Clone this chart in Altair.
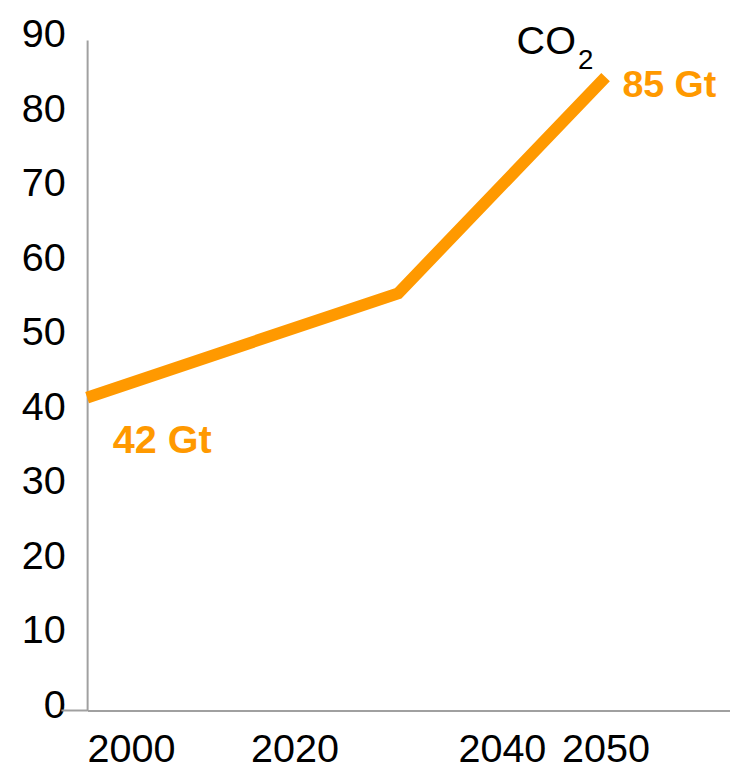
import altair as alt
import pandas as pd

years = [2000, 2030, 2050]
co2 = [42, 56, 85]
x_ticks = [2000, 2020, 2040, 2050]
y_ticks = [0, 10, 20, 30, 40, 50, 60, 70, 80, 90]
start_label = "42 Gt"
end_label = "85 Gt"

ORANGE = "#FF9900"
FONT = "Liberation Sans, Arial, sans-serif"

df = pd.DataFrame({"year": years, "co2": co2})
start_df = pd.DataFrame({"year": [years[0]], "co2": [co2[0]], "t": [start_label]})
end_df = pd.DataFrame({"year": [years[-1]], "co2": [co2[-1]], "t": [end_label]})

xs = alt.Scale(domain=[2000, 2062], nice=False, zero=False)
ys = alt.Scale(domain=[0, 90], nice=False)

line = alt.Chart(df).mark_line(color=ORANGE, strokeWidth=12, strokeCap="butt", strokeJoin="miter").encode(
    x=alt.X("year:Q", scale=xs, axis=alt.Axis(
        values=x_ticks, format="d", title=None, grid=False, ticks=False,
        domainColor="#a0a0a0", domainWidth=2, labelFont=FONT, labelFontSize=40,
        labelColor="#000000", labelPadding=20, labelFlush=True, labelOverlap=False)),
    y=alt.Y("co2:Q", scale=ys, axis=alt.Axis(
        values=y_ticks, title=None, grid=False, ticks=False,
        domainColor="#a0a0a0", domainWidth=2, labelFont=FONT, labelFontSize=40,
        labelColor="#000000", labelPadding=22, labelOffset=-5, labelOverlap=False)),
)

# short extension of the x-axis line to the left of the y-axis
axis_ext = alt.Chart(start_df).mark_rule(color="#a0a0a0", strokeWidth=2).encode(
    x=alt.value(-26), x2=alt.value(0), y=alt.value(678)
)

t_start = alt.Chart(start_df).mark_text(
    align="left", baseline="middle", dx=26, dy=44, font=FONT, fontSize=40,
    fontWeight="bold", color=ORANGE
).encode(x=alt.X("year:Q", scale=xs), y=alt.Y("co2:Q", scale=ys), text="t:N")

t_end = alt.Chart(end_df).mark_text(
    align="left", baseline="middle", dx=17, dy=9, font=FONT, fontSize=38,
    fontWeight="bold", color=ORANGE
).encode(x=alt.X("year:Q", scale=xs), y=alt.Y("co2:Q", scale=ys), text="t:N")

t_co = alt.Chart(end_df).mark_text(
    align="right", baseline="middle", dx=-30, dy=-35, font=FONT, fontSize=40,
    color="#000000"
).encode(x=alt.X("year:Q", scale=xs), y=alt.Y("co2:Q", scale=ys), text=alt.value("CO"))

t_sub = alt.Chart(end_df).mark_text(
    align="left", baseline="middle", dx=-28, dy=-16, font=FONT, fontSize=28,
    color="#000000"
).encode(x=alt.X("year:Q", scale=xs), y=alt.Y("co2:Q", scale=ys), text=alt.value("2"))

chart = alt.layer(axis_ext, line, t_start, t_end, t_co, t_sub).properties(
    width=650, height=678,
    autosize=alt.AutoSizeParams(type="none"),
    padding={"left": 80, "top": 28, "right": 0, "bottom": 68},
).configure(
    background="#ffffff",
    view=alt.ViewConfig(stroke="transparent", strokeWidth=0),
)

chart.save("out.html", embed_options={"renderer": "svg", "actions": False})
